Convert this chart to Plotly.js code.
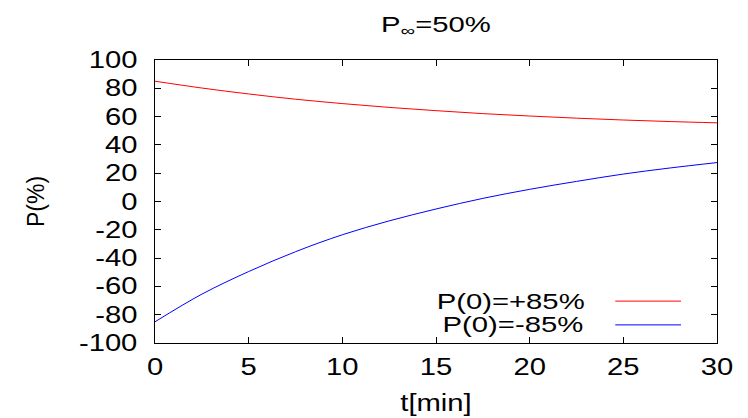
<!DOCTYPE html>
<html>
<head>
<meta charset="utf-8">
<script src="https://cdn.plot.ly/plotly-3.0.1.min.js"></script>
<style>html,body{margin:0;padding:0;background:#fff;}#chart{width:748px;height:418px;}</style>
</head>
<body>
<div id="chart"></div>
<script>
// Data
const tMin = [0, 2.5, 5, 7.5, 10, 12.5, 15, 17.5, 20, 22.5, 25, 27.5, 30];
const pPlus = [85, 80.2, 76, 72.3, 69.2, 66.5, 64.2, 62.1, 60.4, 58.9, 57.6, 56.5, 55.6];
const pMinus = [-85, -65.5, -49.5, -35.5, -23.5, -13.7, -5.3, 2.2, 8.6, 14.2, 19.4, 23.7, 27.5];
const seriesNames = ["P(0)=+85%", "P(0)=-85%"];
const seriesColors = ["#ff0000", "#0000ff"];
const xTicks = [0, 5, 10, 15, 20, 25, 30];
const yTicks = [-100, -80, -60, -40, -20, 0, 20, 40, 60, 80, 100];

const FONT = "Liberation Sans, Arial, Helvetica, sans-serif";
const FS = 23;
const STRETCH = 1.27; // reference glyphs are widened horizontally

const traces = [pPlus, pMinus].map((ys, i) => ({
  x: tMin, y: ys, type: "scatter", mode: "lines", name: seriesNames[i],
  line: {color: seriesColors[i], width: 1, shape: "spline"},
  showlegend: false, hoverinfo: "skip"
}));

const legendRowsY = [0.148, 0.064];
const annotations = seriesNames.map((n, i) => ({
  text: n, xref: "paper", yref: "paper", x: 0.735, y: legendRowsY[i],
  xanchor: "right", yanchor: "middle", showarrow: false,
  font: {family: FONT, size: 22, color: "#000"}
}));
const shapes = seriesNames.map((n, i) => ({
  type: "line", xref: "paper", yref: "paper",
  x0: 0.819, x1: 0.936, y0: legendRowsY[i], y1: legendRowsY[i],
  line: {color: seriesColors[i], width: 1}
}));

const axisCommon = {
  showgrid: false, zeroline: false, showline: true, linecolor: "#000", linewidth: 1,
  mirror: "allticks", ticks: "inside", ticklen: 6, tickcolor: "#000", tickwidth: 1,
  tickfont: {family: FONT, size: FS, color: "#000"}
};

const layout = {
  width: 748, height: 418,
  margin: {l: 155, r: 31, t: 60, b: 75},
  paper_bgcolor: "#fff", plot_bgcolor: "#fff",
  font: {family: FONT, color: "#000"},
  title: {text: "P<sub>∞</sub>=50%", font: {family: FONT, size: 22, color: "#000"},
          x: 0.5, xref: "paper", y: 0.943, yref: "container", yanchor: "middle"},
  xaxis: Object.assign({}, axisCommon, {
    range: [0, 30], tickvals: xTicks, ticktext: xTicks.map(String), ticklabelstandoff: 3,
    title: {text: "t[min]", font: {family: FONT, size: FS, color: "#000"}, standoff: 16}
  }),
  yaxis: Object.assign({}, axisCommon, {
    range: [-100, 100], tickvals: yTicks, ticktext: yTicks.map(String), ticklabelstandoff: 12,
    title: {text: "P(%)", font: {family: FONT, size: FS, color: "#000"}, standoff: 40}
  }),
  annotations: annotations,
  shapes: shapes
};

function widen(gd) {
  gd.querySelectorAll("svg text").forEach(el => {
    if (el.classList.contains("ytitle")) return;
    if (!el.textContent) return;
    const len = el.getComputedTextLength();
    if (!(len > 0)) return;
    let f = STRETCH;
    if (el.classList.contains("gtitle")) f = 1.33;
    else if (el.classList.contains("annotation-text")) f = 1.33;
    el.setAttribute("textLength", (len * f).toFixed(2));
    el.setAttribute("lengthAdjust", "spacingAndGlyphs");
  });
}

Plotly.newPlot("chart", traces, layout, {displayModeBar: false, staticPlot: true})
  .then(gd => widen(gd));
</script>
</body>
</html>
